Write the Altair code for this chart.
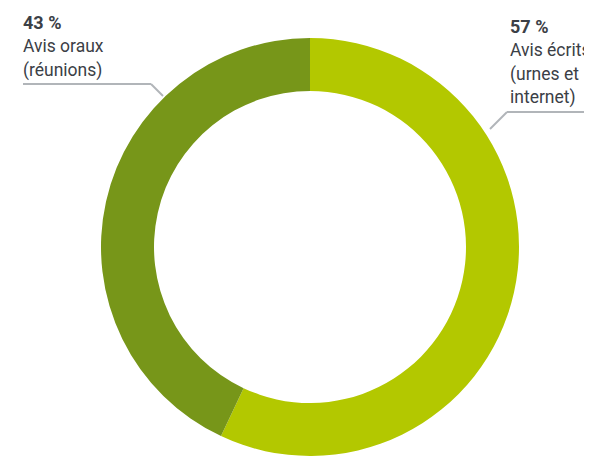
import altair as alt
import pandas as pd

categories = ["Avis écrits (urnes et internet)", "Avis oraux (réunions)"]
values = [57, 43]
colors = ["#b3c800", "#779619"]

label_lines_left = ["43 %", "Avis oraux", "(réunions)"]
label_lines_right = ["57 %", "Avis écrits", "(urnes et", "internet)"]

pie_df = pd.DataFrame({"cat": categories, "value": values, "order": [0, 1]})

donut = alt.Chart(pie_df).mark_arc(outerRadius=209, innerRadius=156, stroke=None).encode(
    theta=alt.Theta("value:Q", stack=True),
    order=alt.Order("order:Q"),
    color=alt.Color("cat:N", scale=alt.Scale(domain=categories, range=colors), legend=None),
    x=alt.value(302),
    y=alt.value(239),
)

# leader lines (pixel segments)
seg_df = pd.DataFrame({
    "x": [15, 143, 482, 499],
    "y": [76, 76, 121, 104],
    "x2": [143, 155, 499, 584],
    "y2": [76, 88, 104, 104],
})
leaders = alt.Chart(seg_df).mark_rule(color="#b1b5b9", strokeWidth=2).encode(
    x=alt.X("x:Q", scale=None),
    y=alt.Y("y:Q", scale=None),
    x2="x2:Q",
    y2="y2:Q",
)

line_h = 23.4
left_df = pd.DataFrame({
    "t": label_lines_left,
    "x": [15] * 3,
    "y": [21 + i * line_h for i in range(3)],
    "w": ["bold", "normal", "normal"],
})
right_df = pd.DataFrame({
    "t": label_lines_right,
    "x": [502] * 4,
    "y": [25 + i * line_h for i in range(4)],
    "w": ["bold", "normal", "normal", "normal"],
})
txt_df = pd.concat([left_df, right_df])

def text_layer(weight, size):
    return alt.Chart(txt_df[txt_df.w == weight]).mark_text(
        align="left", baseline="alphabetic", font="Roboto", fontSize=size,
        fontWeight=weight, color="#3b4046",
    ).encode(
        x=alt.X("x:Q", scale=None),
        y=alt.Y("y:Q", scale=None),
        text="t:N",
    )

chart = alt.layer(donut, leaders, text_layer("bold", 18), text_layer("normal", 17.5)).properties(
    width=576, height=450, padding=0, autosize=alt.AutoSizeParams(type="none")
).configure_view(stroke=None)

chart.save("out.html", embed_options={"renderer": "svg", "actions": False})
